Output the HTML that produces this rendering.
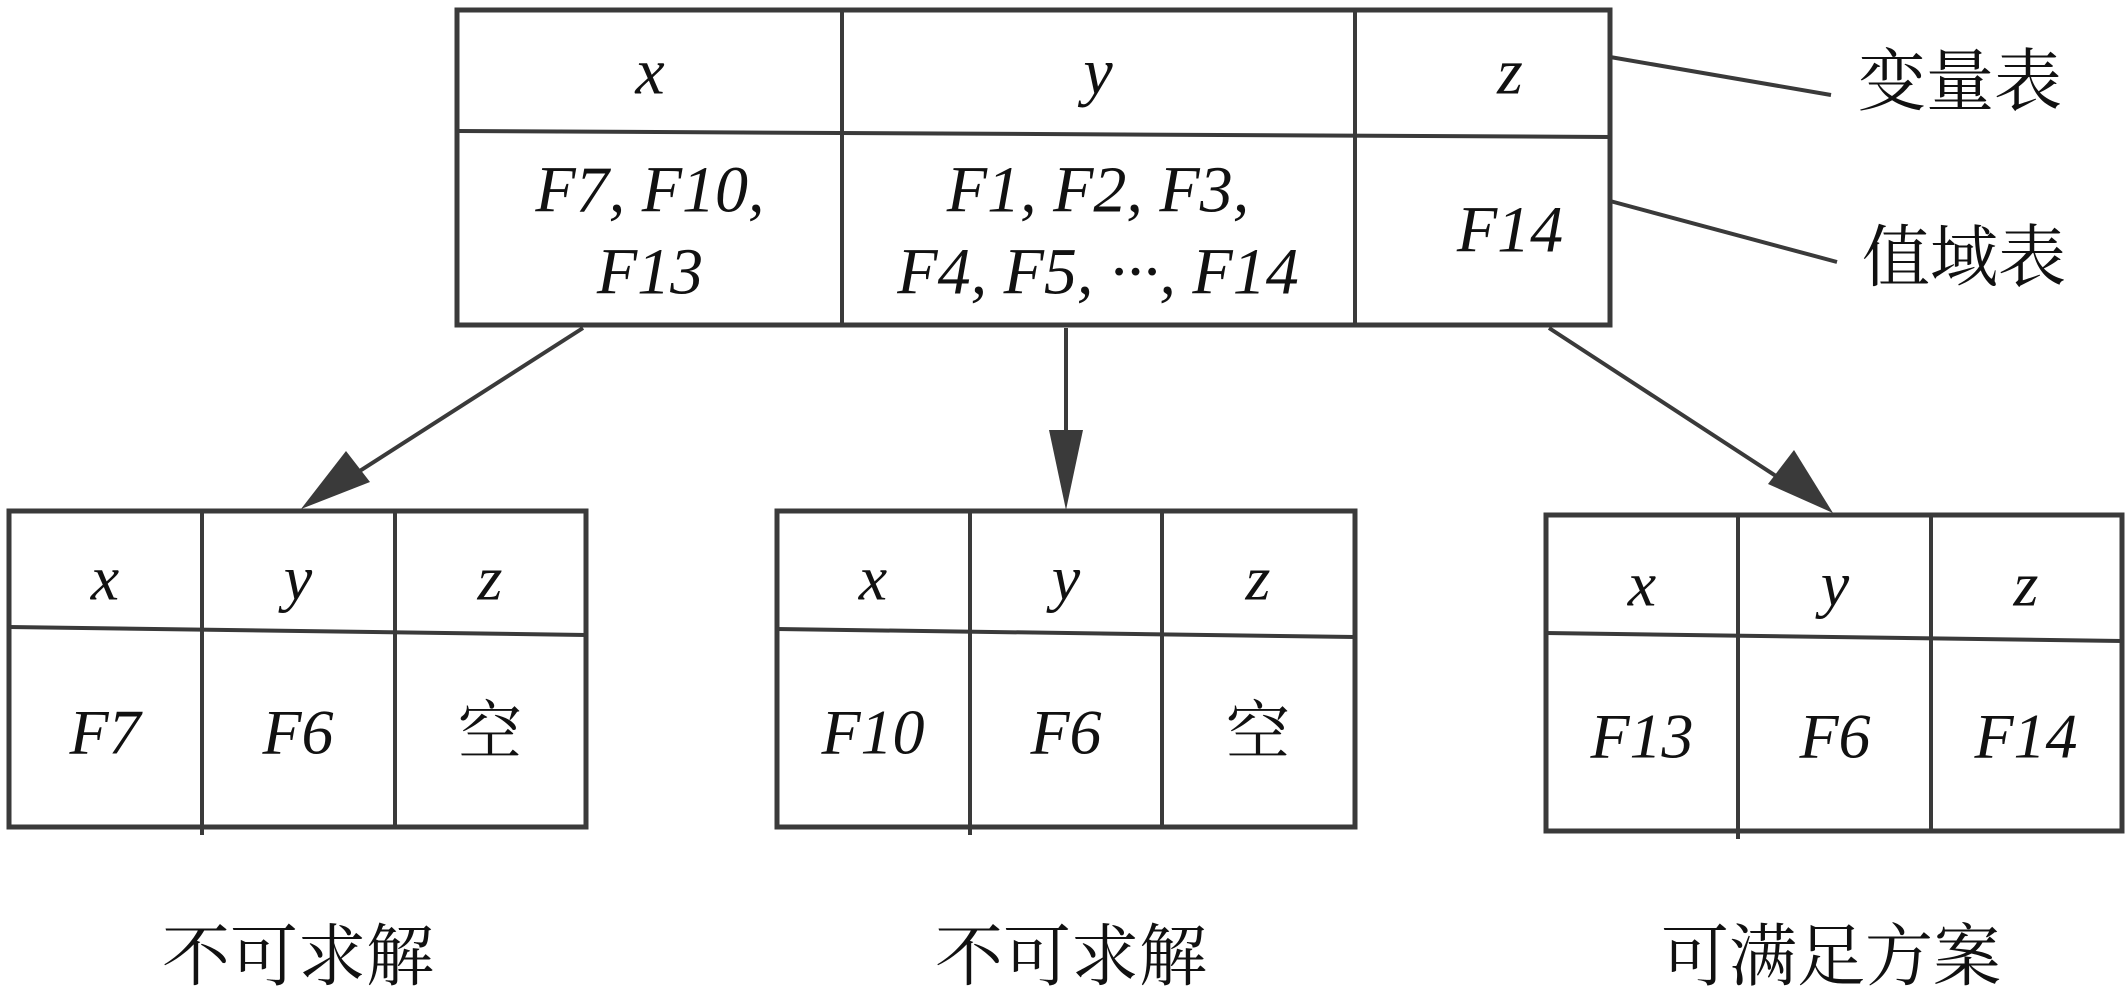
<!DOCTYPE html>
<html><head><meta charset="utf-8"><style>
html,body{margin:0;padding:0;background:#fff;}
svg{display:block;}
.t{font-family:"Liberation Serif",serif;font-style:italic;fill:#111;text-anchor:middle;dominant-baseline:central;}
.c{font-family:"Liberation Serif","Noto Serif CJK SC",serif;fill:#111;text-anchor:middle;dominant-baseline:central;}
</style></head><body>
<svg width="2126" height="994" viewBox="0 0 2126 994" xmlns="http://www.w3.org/2000/svg">
<g stroke="#3a3a3a" stroke-width="4" fill="none">
<rect x="457" y="10" width="1153" height="315" stroke-width="5"/>
<line x1="457" y1="131" x2="1610" y2="137"/>
<line x1="842" y1="10" x2="842" y2="325"/>
<line x1="1355" y1="10" x2="1355" y2="325"/>
<line x1="1610" y1="57" x2="1831" y2="95"/>
<line x1="1610" y1="201" x2="1837" y2="262"/>
<line x1="583" y1="328" x2="330" y2="490"/>
<line x1="1066" y1="328" x2="1066" y2="480"/>
<line x1="1549" y1="328" x2="1805" y2="495"/>
<rect x="9" y="511" width="577" height="316" stroke-width="5"/>
<line x1="9" y1="627" x2="586" y2="635"/>
<line x1="202" y1="511" x2="202" y2="835"/>
<line x1="395" y1="511" x2="395" y2="827"/>
<rect x="777" y="511" width="578" height="316" stroke-width="5"/>
<line x1="777" y1="629" x2="1355" y2="637"/>
<line x1="970" y1="511" x2="970" y2="835"/>
<line x1="1162" y1="511" x2="1162" y2="827"/>
<rect x="1546" y="515" width="576" height="316" stroke-width="5"/>
<line x1="1546" y1="633" x2="2122" y2="641"/>
<line x1="1738" y1="515" x2="1738" y2="839"/>
<line x1="1931" y1="515" x2="1931" y2="831"/>
</g>
<g fill="#3a3a3a">
<polygon points="301,509 346,451 370,482"/>
<polygon points="1066,510 1049,430 1083,430"/>
<polygon points="1833,513 1768,484 1794,450"/>
</g>
<g font-size="66">
<text class="t" x="650" y="72">x</text>
<text class="t" x="1098" y="72">y</text>
<text class="t" x="1510" y="72">z</text>
<text class="t" x="650" y="190">F7, F10,</text>
<text class="t" x="650" y="272">F13</text>
<text class="t" x="1098" y="190">F1, F2, F3,</text>
<text class="t" x="1098" y="272">F4, F5, ···, F14</text>
<text class="t" x="1510" y="230">F14</text>
</g>
<g font-size="68">
<text class="c" x="1960" y="82">变量表</text>
<text class="c" x="1964" y="258">值域表</text>
</g>
<g font-size="64">
<text class="t" x="105" y="578">x</text><text class="t" x="298" y="578">y</text><text class="t" x="490" y="578">z</text>
<text class="t" x="105" y="732">F7</text><text class="t" x="298" y="732">F6</text><text class="c" x="490" y="732">空</text>
<text class="t" x="873" y="578">x</text><text class="t" x="1066" y="578">y</text><text class="t" x="1258" y="578">z</text>
<text class="t" x="873" y="732">F10</text><text class="t" x="1066" y="732">F6</text><text class="c" x="1258" y="732">空</text>
<text class="t" x="1642" y="584">x</text><text class="t" x="1835" y="584">y</text><text class="t" x="2026" y="584">z</text>
<text class="t" x="1642" y="736">F13</text><text class="t" x="1835" y="736">F6</text><text class="t" x="2026" y="736">F14</text>
</g>
<g font-size="68">
<text class="c" x="298" y="957">不可求解</text>
<text class="c" x="1071" y="957">不可求解</text>
<text class="c" x="1831" y="957">可满足方案</text>
</g>
</svg>
</body></html>
